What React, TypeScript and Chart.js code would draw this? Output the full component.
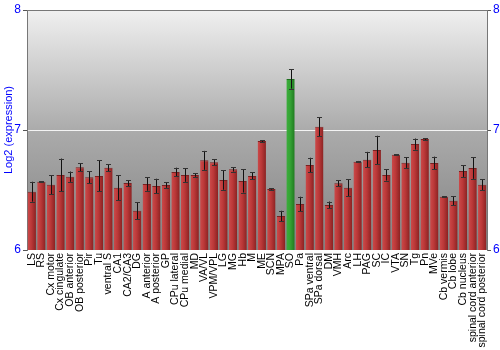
import React, { useEffect, useRef } from "react";
import { Chart, registerables } from "chart.js";

Chart.register(...registerables);

const categories: string[] = [
  "LS", "RS", "Cx motor", "Cx cingulate", "OB anterior", "OB posterior", "Pir", "Tu",
  "ventral S", "CA1", "CA2/CA3", "DG", "A anterior", "A posterior", "GP", "CPu lateral",
  "CPu medial", "MD", "VA/VL", "VPM/VPL", "LG", "MG", "Hb", "M", "ME", "SCN", "MPA", "SO",
  "Pa", "SPa ventral", "SPa dorsal", "DM", "VMH", "Arc", "LH", "PAG", "SC", "IC", "VTA",
  "SN", "Tg", "Pn", "MVe", "Cb vermis", "Cb lobe", "Cb nucleus", "spinal cord anterior",
  "spinal cord posterior",
];

const values: number[] = [
  6.486, 6.569, 6.544, 6.625, 6.611, 6.689, 6.606, 6.617,
  6.686, 6.519, 6.558, 6.328, 6.55, 6.533, 6.542, 6.65,
  6.625, 6.625, 6.747, 6.731, 6.583, 6.672, 6.575, 6.617, 6.908, 6.508, 6.283, 7.425,
  6.383, 6.708, 7.028, 6.375, 6.556, 6.519, 6.736, 6.753, 6.833, 6.625, 6.794,
  6.728, 6.883, 6.925, 6.725, 6.444, 6.411, 6.658, 6.683,
  6.544,
];

const errors: number[] = [
  0.083, 0.005, 0.078, 0.137, 0.043, 0.033, 0.049, 0.129,
  0.028, 0.103, 0.025, 0.071, 0.056, 0.061, 0.024, 0.036,
  0.057, 0.015, 0.079, 0.024, 0.081, 0.018, 0.096, 0.029, 0.008, 0.005, 0.044, 0.08,
  0.061, 0.061, 0.08, 0.029, 0.024, 0.071, 0.006, 0.065, 0.119, 0.046, 0.005,
  0.044, 0.046, 0.008, 0.053, 0.006, 0.038, 0.049, 0.09,
  0.044,
];

const highlighted: string[] = ["SO"];

const yTicks: number[] = [6, 7, 8];

const bgPlugin = {
  id: "bgGradient",
  beforeDraw(chart: any) {
    const { ctx, chartArea } = chart;
    if (!chartArea) return;
    const g = ctx.createLinearGradient(0, chartArea.top, 0, chartArea.bottom);
    g.addColorStop(0, "#f0f0f0");
    g.addColorStop(0.5, "#ababab");
    g.addColorStop(1, "#828282");
    ctx.save();
    ctx.fillStyle = g;
    ctx.fillRect(chartArea.left, chartArea.top, chartArea.right - chartArea.left, chartArea.bottom - chartArea.top);
    ctx.restore();
  },
  afterDraw(chart: any) {
    const { ctx, chartArea } = chart;
    ctx.save();
    ctx.strokeStyle = "#777777";
    ctx.lineWidth = 1;
    ctx.beginPath();
    ctx.moveTo(chartArea.left, chartArea.top + 0.5);
    ctx.lineTo(chartArea.right, chartArea.top + 0.5);
    ctx.stroke();
    ctx.restore();
  },
};

const errorBarPlugin = {
  id: "errorBars",
  afterDatasetsDraw(chart: any) {
    const { ctx } = chart;
    const meta = chart.getDatasetMeta(0);
    const yScale = chart.scales.y;
    ctx.save();
    meta.data.forEach((bar: any, i: number) => {
      const x = Math.round(bar.x) + 0.5;
      const yTop = yScale.getPixelForValue(values[i] + errors[i]);
      const yBot = yScale.getPixelForValue(values[i] - errors[i]);
      ctx.strokeStyle = "#111111";
      ctx.lineWidth = 1;
      ctx.beginPath();
      ctx.moveTo(x, yTop);
      ctx.lineTo(x, yBot);
      ctx.stroke();
      ctx.strokeStyle = "#333333";
      ctx.beginPath();
      ctx.moveTo(x - 2.5, Math.round(yTop) + 0.5);
      ctx.lineTo(x + 2.5, Math.round(yTop) + 0.5);
      ctx.moveTo(x - 2.5, Math.round(yBot) + 0.5);
      ctx.lineTo(x + 2.5, Math.round(yBot) + 0.5);
      ctx.stroke();
    });
    ctx.restore();
  },
};

function barFill(context: any) {
  const chart = context.chart;
  const xScale = chart.scales?.x;
  const i = context.dataIndex;
  const isHi = i !== undefined && highlighted.includes(categories[i]);
  const solid = isHi ? "#34a334" : "#bb3838";
  if (!xScale || i === undefined) return solid;
  const cx = xScale.getPixelForValue(i);
  if (!Number.isFinite(cx)) return solid;
  const half = 4.2;
  const g = chart.ctx.createLinearGradient(cx - half, 0, cx + half, 0);
  if (isHi) {
    g.addColorStop(0, "#3cae3c");
    g.addColorStop(0.45, "#34a334");
    g.addColorStop(1, "#1f7a1f");
  } else {
    g.addColorStop(0, "#cc4a4a");
    g.addColorStop(0.45, "#bb3838");
    g.addColorStop(1, "#8a2222");
  }
  return g;
}

export default function App() {
  const ref = useRef<HTMLCanvasElement | null>(null);

  useEffect(() => {
    if (!ref.current) return;
    const chart = new Chart(ref.current, {
      type: "bar",
      data: {
        labels: categories,
        datasets: [
          {
            data: values,
            backgroundColor: barFill as any,
            borderColor: (c: any) => (c.dataIndex !== undefined && highlighted.includes(categories[c.dataIndex]) ? "#1d6e1d" : "#7a2020"),
            borderWidth: { top: 1, left: 0, right: 0, bottom: 0 } as any,
            borderSkipped: "bottom",
            categoryPercentage: 1,
            barPercentage: 0.87,
          },
        ],
      },
      options: {
        animation: false,
        responsive: false,
        maintainAspectRatio: false,
        layout: { padding: { top: 10, left: 0, right: 0, bottom: 0 } },
        plugins: {
          legend: { display: false },
          tooltip: { enabled: false },
        },
        scales: {
          x: {
            type: "category",
            offset: true,
            grid: { display: false, drawTicks: false },
            border: { display: false },
            ticks: {
              autoSkip: false,
              maxRotation: 90,
              minRotation: 90,
              padding: 3,
              color: "#000000",
              font: { family: "'Liberation Sans', Arial, sans-serif", size: 10.5 },
            },
            afterFit(scale: any) {
              scale.height = 100;
            },
          },
          y: {
            type: "linear",
            position: "left",
            min: 6,
            max: 8,
            afterBuildTicks(scale: any) {
              scale.ticks = yTicks.map((v) => ({ value: v }));
            },
            grid: {
              color: (c: any) => (c.tick && c.tick.value === 7 ? "rgba(255,255,255,0.85)" : "rgba(0,0,0,0)"),
              tickColor: "#555555",
              tickLength: 4,
              lineWidth: 1,
            },
            border: { display: true, color: "#777777" },
            ticks: {
              color: "#0000ff",
              padding: 2,
              font: { family: "'Liberation Sans', Arial, sans-serif", size: 12 },
            },
            title: {
              display: true,
              text: "Log2 (expression)",
              color: "#0000ff",
              padding: { top: 2, bottom: 0 },
              font: { family: "'Liberation Sans', Arial, sans-serif", size: 11 },
            },
            afterFit(scale: any) {
              scale.width = 27;
            },
          },
          y2: {
            type: "linear",
            position: "right",
            min: 6,
            max: 8,
            afterBuildTicks(scale: any) {
              scale.ticks = yTicks.map((v) => ({ value: v }));
            },
            grid: {
              drawOnChartArea: false,
              tickColor: "#555555",
              tickLength: 4,
            },
            border: { display: true, color: "#777777" },
            ticks: {
              color: "#0000ff",
              padding: 2,
              font: { family: "'Liberation Sans', Arial, sans-serif", size: 12 },
            },
            afterFit(scale: any) {
              scale.width = 13;
            },
          },
        },
      },
      plugins: [bgPlugin, errorBarPlugin],
    });
    return () => chart.destroy();
  }, []);

  return (
    <div style={{ position: "fixed", left: 0, top: 0, width: 500, height: 350, background: "#ffffff" }}>
      <canvas ref={ref} width={500} height={350} style={{ width: 500, height: 350, display: "block" }} />
    </div>
  );
}
